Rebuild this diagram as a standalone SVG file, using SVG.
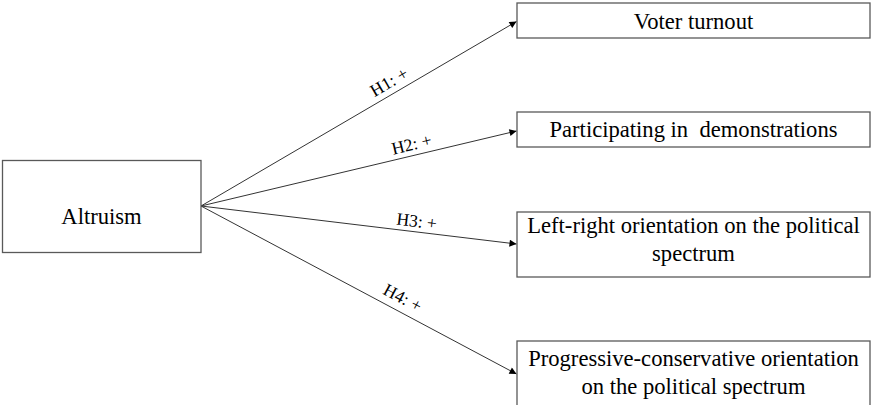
<svg xmlns="http://www.w3.org/2000/svg" width="871" height="405" viewBox="0 0 871 405">
<style>
.box{fill:#fff;stroke:#595959;stroke-width:1.3}
.t{font-family:"Liberation Serif","Times New Roman",serif;font-size:22.6px;fill:#000;text-anchor:middle}
.lb{font-family:"Liberation Serif","Times New Roman",serif;font-size:17.5px;fill:#000;text-anchor:middle}
.edge{stroke:#333;stroke-width:1;fill:none;marker-end:url(#ah)}
</style>
<defs>
<marker id="ah" viewBox="0 0 10 10" refX="10" refY="5" markerWidth="9" markerHeight="7" markerUnits="userSpaceOnUse" orient="auto">
<path d="M0,0 L10,5 L0,10 z" fill="#000"/>
</marker>
</defs>
<rect width="871" height="405" fill="#fff"/>
<g id="connectors">
<line class="edge" x1="201" y1="206" x2="516.5" y2="21.5"/>
<line class="edge" x1="201" y1="206" x2="516.5" y2="131"/>
<line class="edge" x1="201" y1="206" x2="516.5" y2="244"/>
<line class="edge" x1="201" y1="206" x2="516.5" y2="374"/>
<text class="lb" transform="translate(392,87) rotate(-30.3)">H1: +</text>
<text class="lb" transform="translate(413,150) rotate(-13.4)">H2: +</text>
<text class="lb" transform="translate(416,227) rotate(6.9)">H3: +</text>
<text class="lb" transform="translate(400,303) rotate(28)">H4: +</text>
</g>
<g id="altruism">
<rect class="box" x="2.5" y="160.5" width="198.5" height="92"/>
<text class="t" x="101.5" y="224">Altruism</text>
</g>
<g id="voter">
<rect class="box" x="517" y="3" width="353" height="35"/>
<text class="t" x="693.5" y="28.5">Voter turnout</text>
</g>
<g id="demonstrations">
<rect class="box" x="517" y="112" width="353" height="35"/>
<text class="t" x="693.5" y="136.5" xml:space="preserve">Participating in  demonstrations</text>
</g>
<g id="leftright">
<rect class="box" x="517" y="212" width="353" height="65"/>
<text class="t" x="693.5" y="233">Left-right orientation on the political</text>
<text class="t" x="693.5" y="261">spectrum</text>
</g>
<g id="progressive">
<rect class="box" x="517" y="341" width="353" height="66"/>
<text class="t" x="693.5" y="366">Progressive-conservative orientation</text>
<text class="t" x="693.5" y="393.5">on the political spectrum</text>
</g>
</svg>
